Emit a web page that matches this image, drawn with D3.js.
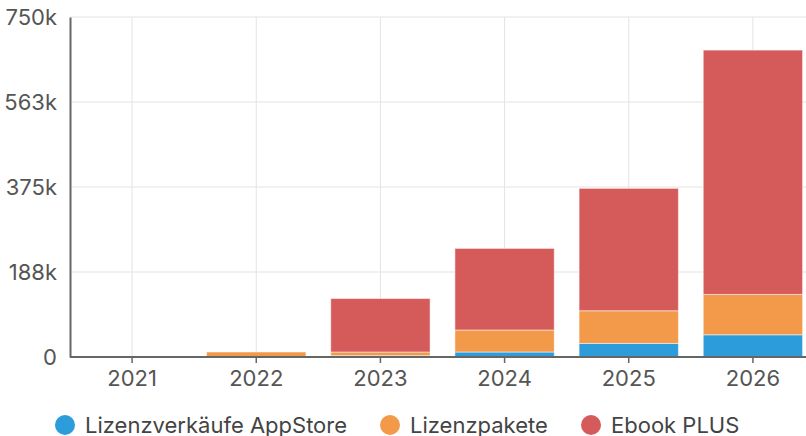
<!DOCTYPE html>
<html>
<head>
<meta charset="UTF-8">
<title>Chart</title>
<script src="https://d3js.org/d3.v7.min.js"></script>
<style>
body { margin: 0; background: #fff; }
text { font-family: Inter, "Noto Sans", sans-serif; }
</style>
</head>
<body>
<svg width="806" height="436"></svg>
<script>
// data
var years = ["2021", "2022", "2023", "2024", "2025", "2026"];
var seriesNames = ["Lizenzverkäufe AppStore", "Lizenzpakete", "Ebook PLUS"];
var appstore = [0, 0, 3000, 11000, 30000, 49000];
var pakete = [0, 11000, 8000, 48500, 72000, 89000];
var ebook = [0, 0, 118000, 180000, 270000, 539000];
var yTicks = [0, 187500, 375000, 562500, 750000];
var yTickLabels = ["0", "188k", "375k", "563k", "750k"];
var colors = ["#2d9cdb", "#f2994a", "#d55b5b"];

var svg = d3.select("svg"),
    plotLeft = 70, plotTop = 17, plotBottom = 357, plotRight = 815;

var rows = years.map(function(y, i) {
  return {year: y, a: appstore[i], b: pakete[i], c: ebook[i]};
});
var stack = d3.stack().keys(["a", "b", "c"])(rows);

var x = d3.scaleBand().domain(years).range([plotLeft, plotRight]).paddingInner(0.2).paddingOuter(0.1);
var y = d3.scaleLinear().domain([0, 750000]).range([plotBottom, plotTop]);

// grid
svg.append("g").selectAll("line").data(yTicks).enter().append("line")
  .attr("x1", plotLeft).attr("x2", 806)
  .attr("y1", function(d) { return y(d); }).attr("y2", function(d) { return y(d); })
  .attr("stroke", "#e3e3e3").attr("stroke-width", 1);
svg.append("g").selectAll("line").data(years).enter().append("line")
  .attr("x1", function(d) { return x(d) + x.bandwidth() / 2; })
  .attr("x2", function(d) { return x(d) + x.bandwidth() / 2; })
  .attr("y1", plotTop).attr("y2", plotBottom)
  .attr("stroke", "#e3e3e3").attr("stroke-width", 1);

// bars
svg.append("g").selectAll("g").data(stack).enter().append("g")
  .attr("fill", function(d, i) { return colors[i]; })
  .selectAll("rect").data(function(d) { return d; }).enter().append("rect")
  .attr("x", function(d) { return x(d.data.year); })
  .attr("width", x.bandwidth())
  .attr("y", function(d) { return y(d[1]); })
  .attr("height", function(d) { return Math.max(0, y(d[0]) - y(d[1])); })
  .attr("stroke", "rgba(255,255,255,0.5)").attr("stroke-width", 1);

// axes
var xAxis = svg.append("g").attr("transform", "translate(0," + plotBottom + ")")
  .call(d3.axisBottom(x).tickSize(6).tickPadding(6).tickSizeOuter(0));
xAxis.select(".domain").attr("stroke", "#666").attr("stroke-width", 2).attr("d", "M" + plotLeft + ",0H806");
xAxis.selectAll(".tick line").attr("stroke", "#666").attr("stroke-width", 1.5);
xAxis.selectAll(".tick text").attr("fill", "#555").style("font-size", "22px").attr("dy", "0.75em");

var yAxis = svg.append("g").attr("transform", "translate(" + plotLeft + ",0)")
  .call(d3.axisLeft(y).tickValues(yTicks).tickSize(0).tickPadding(13)
    .tickFormat(function(d, i) { return yTickLabels[i]; }));
yAxis.select(".domain").attr("stroke", "#666").attr("stroke-width", 2);
yAxis.selectAll(".tick text").attr("fill", "#555").style("font-size", "22px").attr("dy", "0.35em");

// legend
var legX = [65, 390, 591];
var leg = svg.append("g").selectAll("g").data(seriesNames).enter().append("g")
  .attr("transform", function(d, i) { return "translate(" + legX[i] + ",425)"; });
leg.append("circle").attr("r", 10).attr("fill", function(d, i) { return colors[i]; });
leg.append("text").attr("x", 20).attr("dy", "0.35em")
  .attr("fill", "#444").style("font-size", "22px")
  .text(function(d) { return d; });
</script>
</body>
</html>
